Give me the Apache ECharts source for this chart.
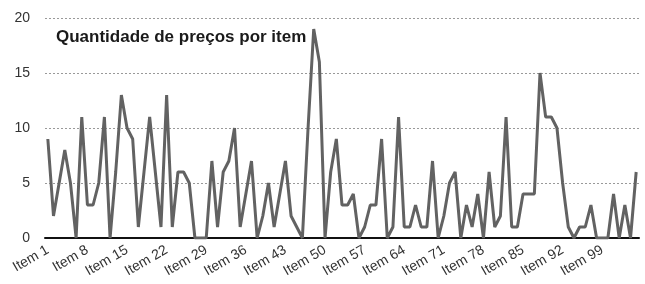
<!DOCTYPE html>
<html>
<head>
<meta charset="utf-8">
<script src="https://cdn.jsdelivr.net/npm/echarts@6/dist/echarts.min.js"></script>
<style>
  html, body { margin: 0; padding: 0; background: #fff; }
  #chart { width: 645px; height: 284px; }
</style>
</head>
<body>
<div id="chart"></div>
<script>
// valores (quantidade de precos por item)
var chart_title = 'Quantidade de preços por item';
var y_ticks = [0, 5, 10, 15, 20];
var item_values = [
    9, 2, 5, 8, 5, 0, 11, 3, 3, 5,
    11, 0, 6, 13, 10, 9, 1, 6, 11, 6,
    1, 13, 1, 6, 6, 5, 0, 0, 0, 7,
    1, 6, 7, 10, 1, 4, 7, 0, 2, 5,
    1, 4, 7, 2, 1, 0, 10, 19, 16, 0,
    6, 9, 3, 3, 4, 0, 1, 3, 3, 9,
    0, 1, 11, 1, 1, 3, 1, 1, 7, 0,
    2, 5, 6, 0, 3, 1, 4, 0, 6, 1,
    2, 11, 1, 1, 4, 4, 4, 15, 11, 11,
    10, 5, 1, 0, 1, 1, 3, 0, 0, 0,
    4, 0, 3, 0, 6
];
var item_names = [];
for (var i = 0; i < item_values.length; i++) {
    item_names.push('Item ' + (i + 1));
}

var myChart = echarts.init(document.getElementById('chart'));
var option = {
    animation: false,
    backgroundColor: '#fff',
    title: {
        text: chart_title,
        left: 51,
        top: 24,
        textStyle: {
            fontFamily: 'Liberation Sans',
            fontWeight: 'bold',
            fontSize: 17,
            color: '#1a1a1a'
        }
    },
    grid: {
        left: 45,
        right: 6,
        top: 18,
        bottom: 46
    },
    xAxis: {
        type: 'category',
        data: item_names,
        boundaryGap: true,
        axisLine: { lineStyle: { color: '#111', width: 2 } },
        axisTick: { show: false },
        axisLabel: {
            interval: 6,
            rotate: 30,
            margin: 11,
            fontFamily: 'Liberation Sans',
            fontSize: 14,
            color: '#333'
        }
    },
    yAxis: {
        type: 'value',
        min: y_ticks[0],
        max: y_ticks[y_ticks.length - 1],
        interval: 5,
        axisLine: { show: false },
        axisTick: { show: false },
        axisLabel: {
            margin: 15,
            fontFamily: 'Liberation Sans',
            fontSize: 14,
            color: '#333'
        },
        splitLine: {
            lineStyle: { color: '#999', type: [2, 2], width: 1 }
        }
    },
    series: [{
        type: 'line',
        data: item_values,
        showSymbol: false,
        lineStyle: { color: '#626262', width: 3 },
        z: 3
    }]
};
myChart.setOption(option);
</script>
</body>
</html>
